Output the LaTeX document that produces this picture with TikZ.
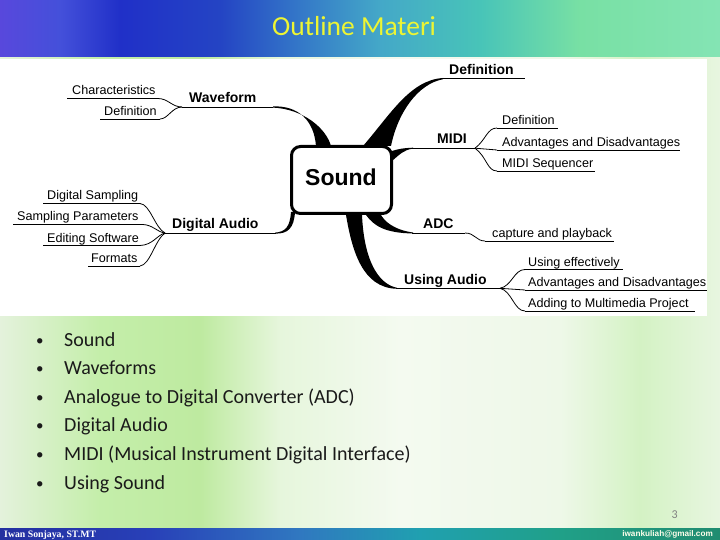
\documentclass[tikz,border=0pt]{standalone}
\usepackage{fontspec}
\setmainfont{Liberation Sans}
\newfontfamily\calfont{Carlito}
\newfontfamily\serffont{Liberation Serif}
\definecolor{tb0}{HTML}{5848DC}
\definecolor{tb1}{HTML}{4450DA}
\definecolor{tb2}{HTML}{2030C8}
\definecolor{tb3}{HTML}{2444C4}
\definecolor{tb4}{HTML}{3478C8}
\definecolor{tb5}{HTML}{44A8C8}
\definecolor{tb6}{HTML}{48C4B8}
\definecolor{tb7}{HTML}{78E0A4}
\definecolor{tb8}{HTML}{84E4B4}
\definecolor{bg0}{HTML}{E4F2DC}
\definecolor{bg1}{HTML}{C4EEAA}
\definecolor{bg2}{HTML}{BEEAA0}
\definecolor{bg3}{HTML}{E6F6DC}
\definecolor{bg4}{HTML}{F4FAF0}
\definecolor{bg5}{HTML}{EEF8E8}
\definecolor{bg6}{HTML}{D4F2C4}
\definecolor{bg7}{HTML}{E8F6E0}
\definecolor{ft0}{HTML}{2430A0}
\definecolor{ft1}{HTML}{2840B8}
\definecolor{ft2}{HTML}{3078C0}
\definecolor{ft3}{HTML}{20A0B0}
\definecolor{ft4}{HTML}{20A088}
\definecolor{ft5}{HTML}{208C70}
\definecolor{titleyellow}{rgb}{0.93,0.96,0.2}
\definecolor{bullettext}{HTML}{1A1A1A}
\pgfdeclarehorizontalshading{tband}{100bp}{color(0bp)=(tb0); color(25bp)=(tb0); color(29.17bp)=(tb1); color(33.33bp)=(tb2); color(40.28bp)=(tb3); color(45.83bp)=(tb4); color(51.39bp)=(tb5); color(58.33bp)=(tb6); color(65.28bp)=(tb7); color(75bp)=(tb8); color(100bp)=(tb8)}
\pgfdeclarehorizontalshading{bodyband}{100bp}{color(0bp)=(bg0); color(25bp)=(bg0); color(31.94bp)=(bg1); color(38.89bp)=(bg2); color(44.44bp)=(bg3); color(52.78bp)=(bg4); color(63.89bp)=(bg5); color(69.44bp)=(bg6); color(75bp)=(bg7); color(100bp)=(bg7)}
\pgfdeclarehorizontalshading{footband}{100bp}{color(0bp)=(ft0); color(25bp)=(ft0); color(35.42bp)=(ft1); color(45.83bp)=(ft2); color(54.17bp)=(ft3); color(63.89bp)=(ft4); color(75bp)=(ft5); color(100bp)=(ft5)}
\tikzset{
  lbl/.style={anchor=base west, inner sep=0pt, font=\fontsize{12.6}{14}\selectfont},
  mainlbl/.style={anchor=base west, inner sep=0pt, font=\bfseries\fontsize{14}{16}\selectfont},
  ul/.style={line width=0.8pt},
  branchfill/.style={fill=black},
  bulletdot/.style={anchor=base west, inner sep=0pt, font=\calfont\fontsize{15}{17}\selectfont, text=bullettext},
  bullettxt/.style={anchor=base west, inner sep=0pt, font=\calfont\fontsize{20}{22}\selectfont, text=bullettext}
}
\begin{document}
\begin{tikzpicture}[x=1pt,y=-1pt]
\useasboundingbox (0,0) rectangle (720,540);
% backgrounds
\shade[shading=bodyband] (0,57) rectangle (720,528);
\shade[shading=tband] (0,0) rectangle (720,57);
\shade[shading=footband] (0,528) rectangle (720,540);
\fill[white] (0,59) rectangle (707,316);
% title
\node[anchor=base west, inner sep=0pt, font=\calfont\fontsize{27.5}{30}\selectfont, text=titleyellow] (title) at (272,36) {Outline Materi};
% central box
\node[draw, line width=3pt, rounded corners=9pt, minimum width=100pt, minimum height=67pt, inner sep=0pt] (soundbox) at (341.5,180) {};
\node[anchor=base, inner sep=0pt, font=\bfseries\fontsize{23}{26}\selectfont] (sound) at (341,186) {Sound};

% ---------- Waveform ----------
\coordinate (wavL) at (182,107); \coordinate (wavR) at (273,107);
\node[mainlbl] (wav) at (189,103) {Waveform};
\draw[ul] (wavL) -- (wavR);
\fill[branchfill] (wavR) ++(0,-0.6) .. controls (298,105.5) and (314,120) .. (316,146) -- (331,146) .. controls (326,128) and (303,109) .. (273,107.6) -- cycle;
\coordinate (charL) at (67,98.5); \coordinate (charR) at (158,98.5);
\node[lbl] (char) at (72,95) {Characteristics};
\draw[ul] (charL) -- (charR);
\coordinate (defwL) at (100,119); \coordinate (defwR) at (160,119);
\node[lbl] (defw) at (104,116) {Definition};
\draw[ul] (defwL) -- (defwR);
\draw[ul] (charR) .. controls (168,98.5) and (172,107) .. (wavL);
\draw[ul] (defwR) .. controls (168,119) and (172,107) .. (wavL);

% ---------- Definition (top) ----------
\coordinate (defL) at (443,78.5); \coordinate (defR) at (525,78.5);
\node[mainlbl] (def) at (449,75) {Definition};
\draw[ul] (defL) -- (defR);
\fill[branchfill] (363,146) .. controls (390,115) and (410,80) .. (443,78) -- (443,79.2) .. controls (418,84) and (398,112) .. (391,146) -- cycle;

% ---------- MIDI ----------
\coordinate (midiL) at (412,148.2); \coordinate (midiR) at (475,148.2);
\node[mainlbl] (midi) at (437,144) {MIDI};
\draw[ul] (midiL) -- (midiR);
\fill[branchfill] (392,151) .. controls (398,149) and (404,148) .. (413,147.7) -- (413,148.7) .. controls (404,149.5) and (399,155) .. (392,161) -- cycle;
\coordinate (mdefL) at (497,128); \coordinate (mdefR) at (558,128);
\node[lbl] (mdef) at (502,125) {Definition};
\draw[ul] (mdefL) -- (mdefR);
\coordinate (madvL) at (497,150); \coordinate (madvR) at (680,150);
\node[lbl] (madv) at (502,146.5) {Advantages and Disadvantages};
\draw[ul] (madvL) -- (madvR);
\coordinate (mseqL) at (497,171); \coordinate (mseqR) at (595,171);
\node[lbl] (mseq) at (502,167.5) {MIDI Sequencer};
\draw[ul] (mseqL) -- (mseqR);
\draw[ul] (midiR) .. controls (486,140) and (487,128) .. (mdefL);
\draw[ul] (midiR) -- (madvL);
\draw[ul] (midiR) .. controls (487,157) and (487,171) .. (mseqL);

% ---------- Digital Audio ----------
\coordinate (daL) at (165,233); \coordinate (daR) at (276,233);
\node[mainlbl] (da) at (172,228.5) {Digital Audio};
\draw[ul] (daL) -- (daR);
\fill[branchfill] (275,232.6) .. controls (286,232) and (290,226) .. (291,212) -- (295,212) .. controls (294,228) and (288,234) .. (275,233.6) -- cycle;
\coordinate (dsL) at (43,203.5); \coordinate (dsR) at (140,203.5);
\node[lbl] (ds) at (47,200) {Digital Sampling};
\draw[ul] (dsL) -- (dsR);
\coordinate (spL) at (13,224.5); \coordinate (spR) at (143,224.5);
\node[lbl] (sp) at (17,221) {Sampling Parameters};
\draw[ul] (spL) -- (spR);
\coordinate (esL) at (43,245.5); \coordinate (esR) at (140,245.5);
\node[lbl] (es) at (47,242) {Editing Software};
\draw[ul] (esL) -- (esR);
\coordinate (fmL) at (88,266); \coordinate (fmR) at (140,266);
\node[lbl] (fm) at (91,262.5) {Formats};
\draw[ul] (fmL) -- (fmR);
\draw[ul] (dsR) .. controls (150,204) and (155,228) .. (daL);
\draw[ul] (spR) .. controls (153,225) and (157,232) .. (daL);
\draw[ul] (esR) .. controls (153,245) and (157,235) .. (daL);
\draw[ul] (fmR) .. controls (150,265) and (155,240) .. (daL);

% ---------- ADC ----------
\coordinate (adcL) at (412,233); \coordinate (adcR) at (465,233);
\node[mainlbl] (adc) at (423,229) {ADC};
\draw[ul] (adcL) -- (adcR);
\fill[branchfill] (366,215) .. controls (374,226) and (385,233) .. (413,233.5) -- (413,232.5) .. controls (395,230) and (384,222) .. (380,213) -- cycle;
\coordinate (capL) at (485,241); \coordinate (capR) at (614,241);
\node[lbl] (cap) at (492,237.5) {capture and playback};
\draw[ul] (capL) -- (capR);
\draw[ul] (adcR) .. controls (475,233) and (476,241) .. (capL);

% ---------- Using Audio ----------
\coordinate (uaL) at (396,288.3); \coordinate (uaR) at (500,288.3);
\node[mainlbl] (ua) at (404,284) {Using Audio};
\draw[ul] (uaL) -- (uaR);
\fill[branchfill] (346,215) .. controls (352,250) and (362,288) .. (397,288.8) -- (397,287.8) .. controls (378,284) and (364,260) .. (362,215) -- cycle;
\coordinate (ueL) at (525,269.5); \coordinate (ueR) at (623,269.5);
\node[lbl] (ue) at (528,266) {Using effectively};
\draw[ul] (ueL) -- (ueR);
\coordinate (uadvL) at (525,290); \coordinate (uadvR) at (707,290);
\node[lbl] (uadv) at (528,286.5) {Advantages and Disadvantages};
\draw[ul] (uadvL) -- (uadvR);
\coordinate (addL) at (525,311); \coordinate (addR) at (695,311);
\node[lbl] (add) at (528,307.5) {Adding to Multimedia Project};
\draw[ul] (addL) -- (addR);
\draw[ul] (uaR) .. controls (512,286) and (514,269.5) .. (ueL);
\draw[ul] (uaR) -- (uadvL);
\draw[ul] (uaR) .. controls (512,291) and (514,311) .. (addL);

% ---------- bullets ----------
\foreach \i/\t in {0/Sound, 1/Waveforms, 2/Analogue to Digital Converter (ADC), 3/Digital Audio, 4/MIDI (Musical Instrument Digital Interface), 5/Using Sound} {
  \node[bulletdot] (b\i) at (36,345+28.6*\i) {•};
  \node[bullettxt] (t\i) at (64,346+28.6*\i) {\t};
}

% ---------- footer ----------
\node[anchor=base east, inner sep=0pt, font=\calfont\fontsize{12}{14}\selectfont, text=gray] (page) at (678,518) {3};
\node[anchor=base west, inner sep=0pt, font=\serffont\bfseries\fontsize{9.8}{11}\selectfont, text=white] (author) at (4,537.5) {Iwan Sonjaya, ST.MT};
\node[anchor=base east, inner sep=0pt, font=\bfseries\fontsize{8.2}{10}\selectfont, text=white!92!yellow] (mail) at (713,536.5) {iwankuliah@gmail.com};
\end{tikzpicture}
\end{document}
